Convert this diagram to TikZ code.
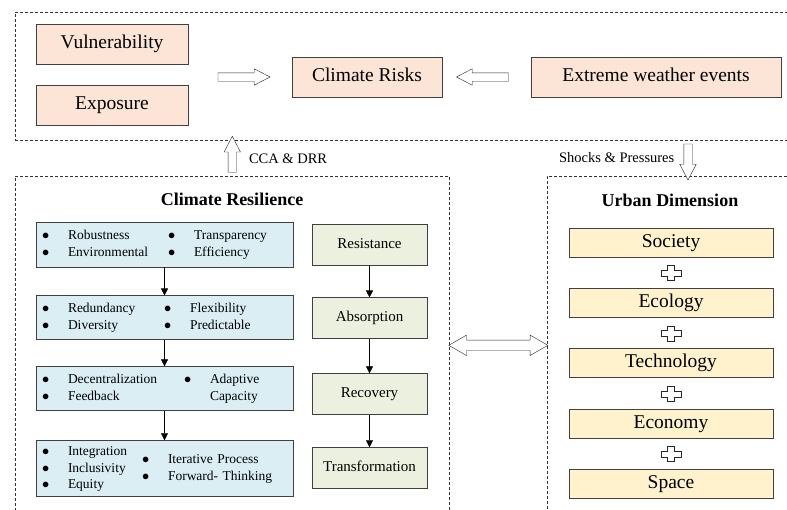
\documentclass[tikz,border=0pt]{standalone}
\usepackage{fontspec}
\setmainfont{Liberation Serif}
\usetikzlibrary{shapes.arrows,arrows.meta,calc,positioning}

\definecolor{peach}{HTML}{FCE4D6}
\definecolor{iceblue}{HTML}{DAEEF3}
\definecolor{palegreen}{HTML}{EBF1DE}
\definecolor{cream}{HTML}{FFF2CC}
\definecolor{edgegray}{HTML}{404040}

% bullet column: bullet, then text column of given spec
\newcommand{\blist}[2]{\begin{tabular}[c]{@{}p{26pt}@{}#1@{}}#2\end{tabular}}

\tikzset{pics/plus/.style={code={
  \draw[draw=black!85,fill=white,thin] (-3.5,-7.5) -- (3.5,-7.5) -- (3.5,-3) -- (10,-3) -- (10,3) -- (3.5,3)
    -- (3.5,7.5) -- (-3.5,7.5) -- (-3.5,3) -- (-10,3) -- (-10,-3) -- (-3.5,-3) -- cycle;}}}

\begin{document}
\begin{tikzpicture}[x=1pt,y=-1pt,>={Triangle[length=7pt,width=7pt]},semithick]
\tikzstyle{frame}=[draw=black!80,dash pattern=on 3pt off 2pt,line width=0.6pt,inner sep=0pt]
\tikzstyle{riskbox}=[draw=edgegray,fill=peach,line width=0.9pt,minimum height=40pt,text height=13pt,text depth=4pt,font=\fontsize{19.5}{21}\selectfont]
\tikzstyle{trait}=[draw=edgegray,fill=iceblue,line width=0.9pt,minimum width=257pt,text width=245pt,inner xsep=6pt,align=left,font=\fontsize{13.5}{16.5}\selectfont]
\tikzstyle{phase}=[draw=edgegray,fill=palegreen,line width=0.9pt,minimum width=115pt,minimum height=41pt,text height=10pt,text depth=3pt,font=\fontsize{15}{17}\selectfont]
\tikzstyle{dim}=[draw=edgegray,fill=cream,line width=0.9pt,minimum width=204pt,minimum height=29pt,text height=13pt,text depth=4pt,font=\fontsize{19.5}{21}\selectfont]
\tikzstyle{hollow}=[draw=black!85,fill=white,thin,shape=single arrow,inner xsep=0pt,inner ysep=4pt,single arrow head extend=4pt,single arrow tip angle=55]
\tikzstyle{hollowv}=[hollow,inner xsep=4pt,inner ysep=0pt]
\tikzstyle{twoway}=[draw=black!85,fill=white,thin,shape=double arrow,inner xsep=0pt,inner ysep=5pt,double arrow head extend=5pt,double arrow tip angle=60]
\tikzstyle{lbl}=[inner sep=0pt,font=\fontsize{14.5}{16}\selectfont]
\tikzstyle{title}=[inner sep=0pt,font=\fontsize{18}{20}\selectfont\bfseries]
\useasboundingbox (0,0) rectangle (787,509);

% dashed frames
\node[frame,minimum width=800pt,minimum height=128pt,anchor=north west] (top) at (15,12) {};
\node[frame,minimum width=434pt,minimum height=350pt,anchor=north west] (resil) at (15,176) {};
\node[frame,minimum width=260pt,minimum height=350pt,anchor=north west] (urban) at (547,176) {};

% risk
\node[riskbox,minimum width=152pt] (vul) at (112,44) {Vulnerability};
\node[riskbox,minimum width=152pt] (expo) at (112,105) {Exposure};
\node[riskbox,minimum width=150pt] (risk) at (367,77) {Climate Risks};
\node[riskbox,minimum width=250pt] (ext) at (656,77) {Extreme weather events};
\node[hollow,minimum height=52pt] (a1) at ($(vul.east |- risk)!0.5!(risk.west)$) {};
\node[hollow,minimum height=52pt,shape border rotate=180] (a2) at ($(risk.east)!0.5!(ext.west)$) {};

% links between frames
\node[hollowv,minimum height=36pt,shape border rotate=90] (a3) at ($(resil.north)!0.5!(resil.north |- top.south)$) {};
\node[lbl,right=12pt of a3] (cca) {CCA \& DRR};
\node[hollowv,minimum height=36pt,shape border rotate=270] (a4) at (688,158) {};
\node[lbl,left=9pt of a4] (shock) {Shocks \& Pressures};
\node[twoway,minimum height=99pt,yshift=6pt] (a5) at ($(resil.east)!0.5!(urban.west)$) {};

% climate resilience
\node[title] (rtitle) at (232,199) {Climate Resilience};
\node[trait,minimum height=45pt] (t1) at (164.5,244.5) {\noindent\blist{p{100pt}}{$\bullet$ & Robustness\\ $\bullet$ & Environmental}\blist{l}{$\bullet$ & Transparency\\ $\bullet$ & Efficiency}};
\node[trait,minimum height=44pt,below=28pt of t1] (t2) {\noindent\blist{p{96pt}}{$\bullet$ & Redundancy\\ $\bullet$ & Diversity}\blist{l}{$\bullet$ & Flexibility\\ $\bullet$ & Predictable}};
\node[trait,minimum height=44pt,below=26pt of t2] (t3) {\noindent\blist{p{116pt}}{$\bullet$ & Decentralization\\ $\bullet$ & Feedback}\blist{l}{$\bullet$ & Adaptive\\ & Capacity}};
\node[trait,minimum height=56pt,below=29pt of t3] (t4) {\noindent\blist{p{74pt}}{$\bullet$ & Integration\\ $\bullet$ & Inclusivity\\ $\bullet$ & Equity}\blist{l}{$\bullet$ & Iterative Process\\ $\bullet$ & Forward- Thinking}};
\draw[->] (t1) -- (t2);
\draw[->] (t2) -- (t3);
\draw[->] (t3) -- (t4);

\node[phase] (g1) at (369.5,244.5) {Resistance};
\node[phase,below=32pt of g1] (g2) {Absorption};
\node[phase,below=34pt of g2] (g3) {Recovery};
\node[phase,below=32pt of g3] (g4) {Transformation};
\draw[->] (g1) -- (g2);
\draw[->] (g2) -- (g3);
\draw[->] (g3) -- (g4);

% urban dimension
\node[title] (utitle) at (670,200) {Urban Dimension};
\node[dim] (soc) at (671,242.5) {Society};
\node[dim,below=31pt of soc] (eco) {Ecology};
\node[dim,below=30pt of eco] (tech) {Technology};
\node[dim,below=31pt of tech] (econ) {Economy};
\node[dim,below=30pt of econ] (spc) {Space};
\foreach \a/\b in {soc/eco,eco/tech,tech/econ,econ/spc}
  \pic at ($(\a.south)!0.5!(\b.north)$) {plus};
\end{tikzpicture}
\end{document}
